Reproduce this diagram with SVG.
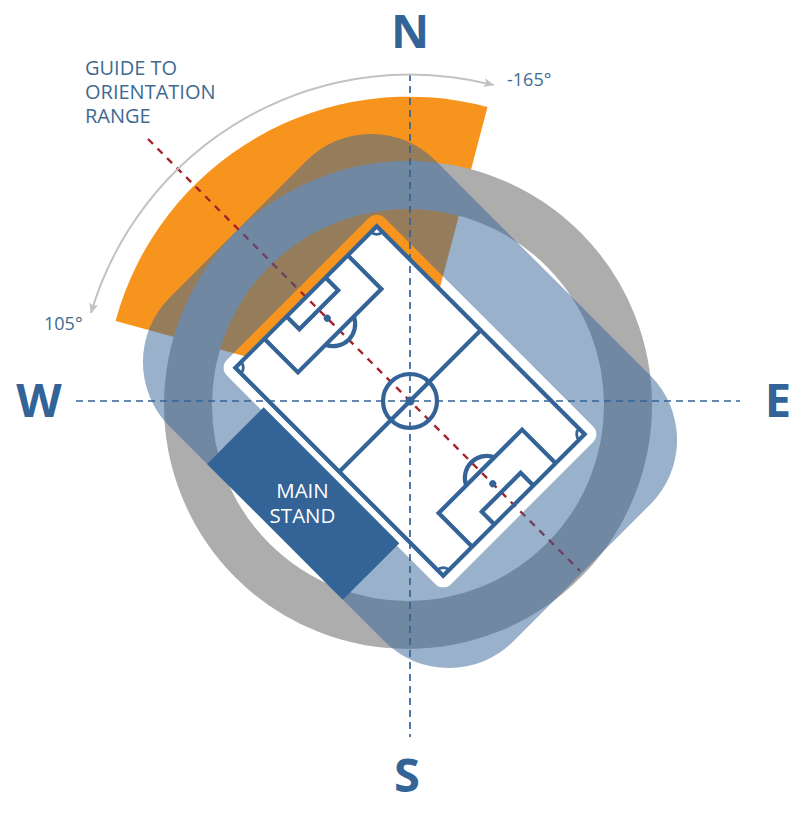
<svg xmlns="http://www.w3.org/2000/svg" width="810" height="826" viewBox="0 0 810 826">
<style>
.line{fill:none;stroke:#336397;stroke-width:4.2}
.axis{fill:none;stroke:#336397;stroke-width:1.7;stroke-dasharray:7 5}
.t{font-family:"Open Sans","Noto Sans","DejaVu Sans",sans-serif;fill:#3f6a92;font-size:20px}
.d{font-family:"Open Sans","Noto Sans","DejaVu Sans",sans-serif;fill:#3f6a92;font-size:18px}
.c{font-family:"Open Sans","Noto Sans","DejaVu Sans",sans-serif;fill:#336397;font-size:47px;font-weight:700;text-anchor:middle}
.s{font-family:"Open Sans","Noto Sans","DejaVu Sans",sans-serif;fill:#fff;font-size:20.5px;text-anchor:middle}
</style>
<defs>
<marker id="ah" viewBox="0 0 10 9" refX="9.5" refY="4.5" markerWidth="10" markerHeight="9" markerUnits="userSpaceOnUse" orient="auto-start-reverse"><path d="M0 0L10 4.5L0 9L2 4.5Z" fill="#c2c2c2"/></marker>
</defs>
<rect width="810" height="826" fill="#fff"/>
<g id="orientation-range">
<path d="M410 401L487.5 107A304 304 0 0 0 115.5 321Z" fill="#f7941e"/>
</g>
<g id="ring">
<circle cx="408" cy="405" r="220" fill="none" stroke="#adadad" stroke-width="48"/>
</g>
<g id="pitch-base">
<rect x="-147" y="-100" width="294" height="200" transform="translate(410 401) rotate(45)" fill="#fff"/>
</g>
<g id="connectors">
<path id="pitch-axis" d="M148 139L580 571" fill="none" stroke="#a5232b" stroke-width="2.4" stroke-dasharray="7 6.5"/>
</g>
<g id="stadium">
<path transform="translate(410 401) rotate(45)" fill="#336397" fill-opacity=".5" fill-rule="evenodd" d="M-152 -188H152A91 91 0 0 1 243 -97V97A91 91 0 0 1 152 188H-152A91 91 0 0 1 -243 97V-97A91 91 0 0 1 -152 -188ZM-147.5 -111.5A11 11 0 0 0 -158.5 -100.5V100.5A11 11 0 0 0 -147.5 111.5H147.5A11 11 0 0 0 158.5 100.5V-100.5A11 11 0 0 0 147.5 -111.5Z"/>
</g>
<g id="main-stand">
<rect x="-99" y="108" width="192" height="80" transform="translate(410 401) rotate(45)" fill="#336397"/>
<text class="s" x="302.5" y="498">MAIN</text>
<text class="s" x="302.5" y="522.5">STAND</text>
</g>
<g id="pitch" transform="translate(410 401) rotate(45)">
<rect class="line" x="-147" y="-100" width="294" height="200"/>
<path class="line" d="M0 -100V100"/>
<circle class="line" cx="0" cy="0" r="27"/>
<circle cx="0" cy="0" r="4.5" fill="#336397"/>
<path class="line" d="M-147 -59H-99.5V59H-147"/>
<path class="line" d="M-147 -27.5H-129V27.5H-147"/>
<circle cx="-117" cy="0" r="3.5" fill="#336397"/>
<path class="line" d="M-99.5 -20A22 22 0 0 1 -99.5 20"/>
<path class="line" d="M147 -59H99.5V59H147"/>
<path class="line" d="M147 -27.5H129V27.5H147"/>
<circle cx="117" cy="0" r="3.5" fill="#336397"/>
<path class="line" d="M99.5 -20A22 22 0 0 0 99.5 20"/>
<path class="line" style="stroke-width:2.8" d="M-147 -92A8 8 0 0 0 -139 -100M-139 100A8 8 0 0 0 -147 92M139 -100A8 8 0 0 0 147 -92M147 92A8 8 0 0 0 139 100"/>
</g>
<g id="axes">
<path class="axis" d="M76 401H740"/>
<path class="axis" d="M410 74V737"/>
</g>
<g id="range-arrow">
<path d="M493.5 85A333 333 0 0 0 91 313" fill="none" stroke="#c2c2c2" stroke-width="2" marker-start="url(#ah)" marker-end="url(#ah)"/>
</g>
<g id="labels">
<text class="t" x="85" y="75">GUIDE TO</text>
<text class="t" x="85" y="99">ORIENTATION</text>
<text class="t" x="85" y="123">RANGE</text>
<text class="d" x="507" y="86">-165°</text>
<text class="d" x="44" y="330">105°</text>
<text class="c" x="410" y="48">N</text>
<text class="c" x="39" y="417">W</text>
<text class="c" x="778" y="417">E</text>
<text class="c" x="407" y="792">S</text>
</g>
</svg>
